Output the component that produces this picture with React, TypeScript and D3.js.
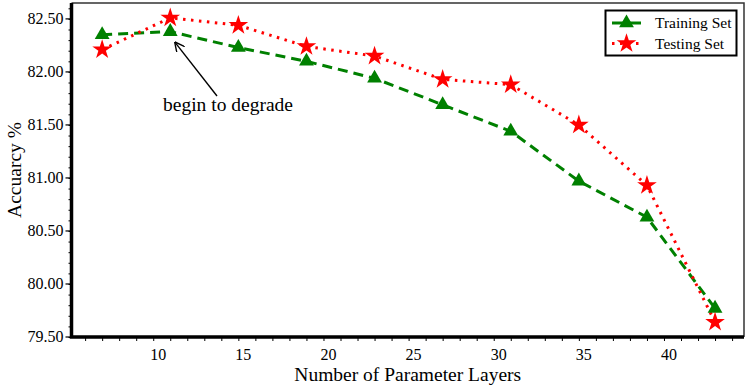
import React, { useEffect, useRef } from "react";
import * as d3 from "d3";

const width = 748;
const height = 388;
const margin = { top: 3, right: 4, bottom: 51, left: 71.5 };

const layers = [7, 11, 15, 19, 23, 27, 31, 35, 39, 43];
const trainAcc = [82.35, 82.38, 82.23, 82.1, 81.94, 81.69, 81.44, 80.97, 80.63, 79.77];
const testAcc = [82.21, 82.51, 82.44, 82.24, 82.15, 81.93, 81.88, 81.5, 80.93, 79.64];
const xTicks = [10, 15, 20, 25, 30, 35, 40];
const yTicks = [79.5, 80, 80.5, 81, 81.5, 82, 82.5];
const seriesNames = ["Training Set", "Testing Set"];

const font = "'Liberation Serif', 'Times New Roman', serif";

const xScale = d3.scaleLinear([5.2, 44.7], [margin.left, width - margin.right]);
const yScale = d3.scaleLinear([79.5, 82.65], [height - margin.bottom, margin.top]);

export default function App() {
  const ref = useRef<SVGSVGElement>(null);

  useEffect(() => {
    const svg = d3.select(ref.current);
    svg.selectAll("*").remove();
    const x0 = margin.left;
    const x1 = width - margin.right;
    const y0 = height - margin.bottom;
    const y1 = margin.top;

    // frame: thin top/right
    svg.append("path")
      .attr("d", `M${x0},${y1}H${x1}V${y0}`)
      .attr("fill", "none")
      .attr("stroke", "#333")
      .attr("stroke-width", 1.5);

    // x axis
    const xAxis = svg.append("g")
      .attr("transform", `translate(0,${y0})`)
      .call(d3.axisBottom(xScale).tickValues(d3.range(6, 45, 1)).tickSize(4).tickFormat(() => ""));
    xAxis.select(".domain").remove();
    xAxis.selectAll("line").attr("stroke", "#000").attr("stroke-width", 1);
    svg.append("g")
      .selectAll("text")
      .data(xTicks)
      .join("text")
      .attr("x", (d) => xScale(d) + 5)
      .attr("y", y0 + 23)
      .attr("text-anchor", "middle")
      .attr("font-family", font)
      .attr("font-size", 16)
      .text((d) => d);

    // y axis
    const yAxis = svg.append("g")
      .attr("transform", `translate(${x0},0)`)
      .call(d3.axisLeft(yScale).tickValues(d3.range(79.5, 82.65, 0.1)).tickSize(3).tickFormat(() => ""));
    yAxis.select(".domain").remove();
    yAxis.selectAll("line").attr("stroke", "#000").attr("stroke-width", 1);
    svg.append("g")
      .selectAll("line")
      .data(yTicks)
      .join("line")
      .attr("x1", x0 - 6)
      .attr("x2", x0)
      .attr("y1", (d) => yScale(d))
      .attr("y2", (d) => yScale(d))
      .attr("stroke", "#000")
      .attr("stroke-width", 1.2);
    svg.append("g")
      .selectAll("text")
      .data(yTicks)
      .join("text")
      .attr("x", x0 - 8)
      .attr("y", (d) => yScale(d) + 5)
      .attr("text-anchor", "end")
      .attr("font-family", font)
      .attr("font-size", 16)
      .text((d) => d.toFixed(2));

    // thick left/bottom spines
    svg.append("path")
      .attr("d", `M${x0},${y1}V${y0}H${x1}`)
      .attr("fill", "none")
      .attr("stroke", "#000")
      .attr("stroke-width", 3.5);

    // axis titles
    svg.append("text")
      .attr("x", (x0 + x1) / 2)
      .attr("y", 381)
      .attr("text-anchor", "middle")
      .attr("font-family", font)
      .attr("font-size", 19.5)
      .text("Number of Parameter Layers");
    svg.append("text")
      .attr("transform", `translate(21,${(y0 + y1) / 2}) rotate(-90)`)
      .attr("text-anchor", "middle")
      .attr("font-family", font)
      .attr("font-size", 19.5)
      .text("Accuarcy %");

    const line = d3.line<number>().x((_, i) => xScale(layers[i])).y((d) => yScale(d));
    const tri = d3.symbol(d3.symbolTriangle, 95)();
    const star = d3.symbol(d3.symbolStar, 120)();

    svg.append("path")
      .datum(trainAcc)
      .attr("d", line)
      .attr("fill", "none")
      .attr("stroke", "#008000")
      .attr("stroke-width", 3)
      .attr("stroke-dasharray", "10,6");
    svg.append("path")
      .datum(testAcc)
      .attr("d", line)
      .attr("fill", "none")
      .attr("stroke", "#ff0000")
      .attr("stroke-width", 3)
      .attr("stroke-dasharray", "2.5,5.5");

    svg.append("g")
      .selectAll("path")
      .data(trainAcc)
      .join("path")
      .attr("d", tri)
      .attr("transform", (d, i) => `translate(${xScale(layers[i])},${yScale(d)})`)
      .attr("fill", "#008000");
    svg.append("g")
      .selectAll("path")
      .data(testAcc)
      .join("path")
      .attr("d", star)
      .attr("transform", (d, i) => `translate(${xScale(layers[i])},${yScale(d)})`)
      .attr("fill", "#ff0000");

    // annotation
    svg.append("defs").append("marker")
      .attr("id", "arrowhead")
      .attr("viewBox", "0 0 10 10")
      .attr("refX", 9)
      .attr("refY", 5)
      .attr("markerWidth", 10)
      .attr("markerHeight", 10)
      .attr("markerUnits", "userSpaceOnUse")
      .attr("orient", "auto")
      .append("path")
      .attr("d", "M0,0L10,5L0,10")
      .attr("fill", "none")
      .attr("stroke", "#000")
      .attr("stroke-width", 1.4);
    svg.append("line")
      .attr("x1", 217)
      .attr("y1", 96)
      .attr("x2", xScale(11) + 5)
      .attr("y2", yScale(82.38) + 11)
      .attr("stroke", "#000")
      .attr("stroke-width", 1.4)
      .attr("marker-end", "url(#arrowhead)");
    svg.append("text")
      .attr("x", 228)
      .attr("y", 111)
      .attr("text-anchor", "middle")
      .attr("font-family", font)
      .attr("font-size", 19.5)
      .text("begin to degrade");

    // legend
    const lg = svg.append("g");
    lg.append("rect")
      .attr("x", 605.5)
      .attr("y", 10.5)
      .attr("width", 131)
      .attr("height", 45)
      .attr("fill", "#fff")
      .attr("stroke", "#000")
      .attr("stroke-width", 2);
    seriesNames.forEach((name, i) => {
      const y = 23 + i * 20.5;
      lg.append("line")
        .attr("x1", 612)
        .attr("x2", 641)
        .attr("y1", y)
        .attr("y2", y)
        .attr("stroke", i === 0 ? "#008000" : "#ff0000")
        .attr("stroke-width", 3)
        .attr("stroke-dasharray", i === 0 ? null : "2.5,5.5");
      lg.append("path")
        .attr("d", i === 0 ? tri : star)
        .attr("transform", `translate(626.5,${y})`)
        .attr("fill", i === 0 ? "#008000" : "#ff0000");
      lg.append("text")
        .attr("x", 655)
        .attr("y", y + 5)
        .attr("font-family", font)
        .attr("font-size", 15.5)
        .text(name);
    });
  }, []);

  return (
    <svg
      ref={ref}
      width={width}
      height={height}
      style={{ position: "absolute", left: 0, top: 0, background: "#fff" }}
    />
  );
}
